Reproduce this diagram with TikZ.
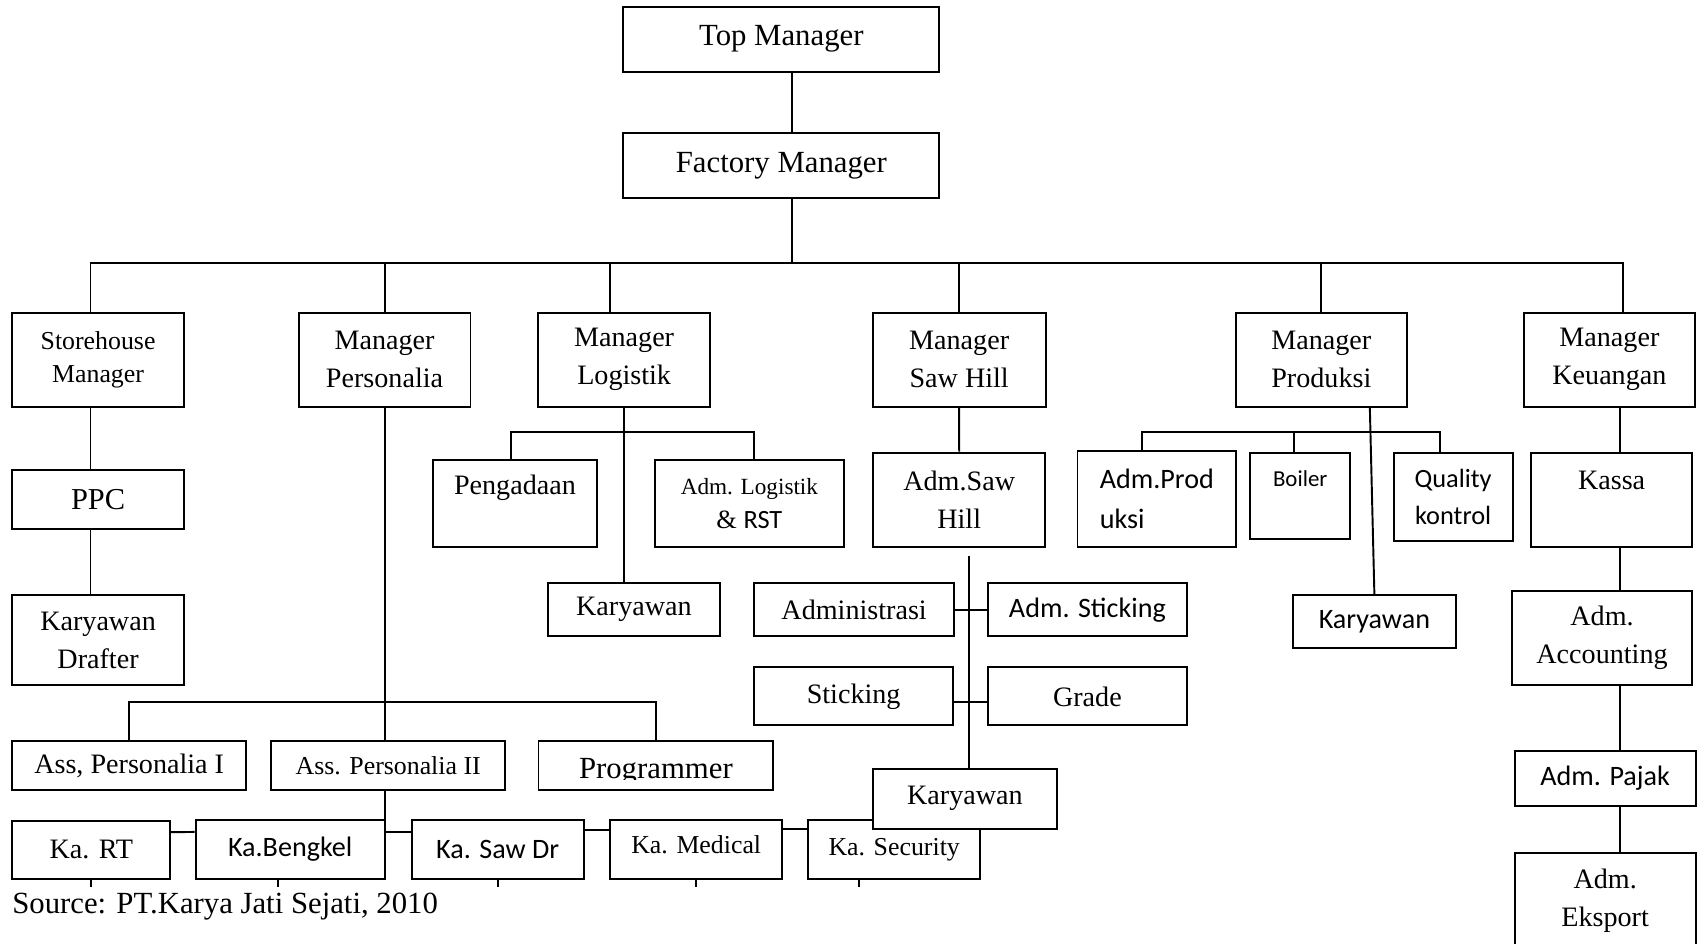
\documentclass[tikz,border=0pt]{standalone}
\usepackage{fontspec}
\setmainfont{Liberation Serif}
\newfontfamily\calibri{Carlito}
\usetikzlibrary{calc}
\newcommand{\pxu}{0.02167cm}
\newcommand{\orgbox}[7][] % options, name, left, top, right, bottom (px of the scan), text
{
	\node[box, #1, minimum width={(#5-#3)*\pxu}, minimum height={(#6-#4)*\pxu}] (#2) at ({(#3+#5)/2},{(#4+#6)/2}) {#7};
}
\tikzset{
	box/.style={draw, fill=white, line width=1.1pt, inner sep=0pt, align=center, font=\fontsize{16}{21.5}\selectfont},
	sans/.style={font=\calibri\fontsize{16}{21.5}\selectfont},
	small/.style={font=\fontsize{14.7}{19}\selectfont},
	link/.style={line width=1.1pt},
}
\begin{document}
\begin{tikzpicture}[x=\pxu, y=-\pxu]
	\clip (0,0) rectangle (1568,871);
	% top of the tree
	\orgbox[font=\fontsize{17.5}{21.5}\selectfont]{tm}{575.3}{6.2}{866.9}{66.1}{Top Manager}
	\orgbox[font=\fontsize{17.5}{21.5}\selectfont]{fm}{575.3}{123}{866.9}{183}{Factory Manager}
	
	% managers
	\orgbox[small]{sm}{11}{288.6}{170}{375.3}{Storehouse\\Manager}
	\orgbox{mp}{275.6}{288.6}{434.2}{375.3}{Manager\\Personalia}
	\orgbox{ml}{496.7}{288.6}{655.3}{375.3}{Manager\\Logistik}
	\orgbox{msh}{805.4}{288.6}{965}{375.3}{Manager\\Saw Hill}
	\orgbox{mpr}{1140.3}{288.6}{1298.6}{375.3}{Manager\\Produksi}
	\orgbox{mk}{1406.6}{288.6}{1564}{375.3}{Manager\\Keuangan}
	
	% storehouse
	\orgbox[font=\fontsize{17.3}{21.5}\selectfont]{ppc}{11}{433.8}{170}{488.5}{PPC}
	\orgbox{drafter}{11}{549.2}{170}{632.2}{Karyawan\\Drafter}
	
	% personalia
	\orgbox{ass1}{11.5}{684}{227}{728.8}{Ass, Personalia I}
	\orgbox[small]{ass2}{250.5}{684}{466}{728.8}{Ass. Personalia II}
	\orgbox{prog}{497}{684}{713.6}{728.8}{}
	\begin{scope}
		\clip (497,684) rectangle (713.6,719.5);
		\node[anchor=base, font=\fontsize{17.5}{21}\selectfont, inner sep=0pt] (progtext) at (605.3,718.3) {Programmer};
	\end{scope}
	\orgbox{krt}{11.5}{757.5}{157}{811}{Ka. RT}
	\orgbox[sans]{kbeng}{180.6}{757}{355}{811}{Ka.Bengkel}
	\orgbox[sans]{ksaw}{380}{757}{538.6}{811}{Ka. Saw Dr}
	\orgbox[small, text depth=6pt]{kmed}{563.3}{757}{721.8}{811}{Ka. Medical}
	\orgbox[small, text depth=3pt]{ksec}{746}{757}{904.5}{811}{Ka. Security}
	
	% logistik
	\orgbox[text depth=21pt]{peng}{399.2}{424.9}{551.3}{504.5}{Pengadaan}
	\orgbox[font=\fontsize{13.2}{19.7}\selectfont]{admlog}{604.3}{424.9}{778.9}{504.5}{Adm. Logistik\\{\fontsize{15}{19.7}\selectfont\& {\calibri RST}}}
	\orgbox{klog}{505.8}{538.4}{664.3}{587}{Karyawan}
	
	% saw hill
	\orgbox{admsh}{806}{417.8}{964.5}{504.5}{Adm.Saw\\Hill}
	\orgbox{adm}{696}{538.4}{880.5}{587}{Administrasi}
	\orgbox[sans]{admstk}{911.6}{538.4}{1095.5}{587}{Adm. Sticking}
	\orgbox{stk}{696}{616}{879.6}{669.4}{Sticking}
	\orgbox{grade}{911.6}{616}{1095.5}{669.4}{Grade}
	\orgbox{ksh}{805.7}{709.4}{975.3}{764.8}{Karyawan}
	
	% produksi
	\orgbox[align=left, font=\calibri\fontsize{16}{22.7}\selectfont]{admprod}{994.4}{416}{1140.8}{504.5}{Adm.Prod\\uksi}
	\orgbox[font=\calibri\fontsize{13}{16}\selectfont, text depth=20pt]{boiler}{1154}{417.8}{1245.9}{497.2}{Boiler}
	\orgbox[font=\calibri\fontsize{15}{21}\selectfont]{qc}{1286.2}{417.8}{1396}{499.3}{Quality\\kontrol}
	\orgbox[sans]{kprod}{1193.5}{549.2}{1343.3}{597.8}{Karyawan}
	
	% keuangan
	\orgbox[text depth=22pt]{kassa}{1413}{417.8}{1561.7}{504.5}{Kassa}
	\orgbox{acc}{1395.3}{545.5}{1561.7}{632.2}{Adm.\\Accounting}
	\orgbox[sans]{pajak}{1397.8}{692.8}{1565}{743.9}{Adm. Pajak}
	\orgbox{eksport}{1397.8}{787}{1565}{876}{Adm.\\Eksport}
	
	\node[anchor=base west, font=\fontsize{17.5}{21}\selectfont, inner sep=0pt] (source) at (11,843) {Source: PT.Karya Jati Sejati, 2010};
	
	% lines, top
	\coordinate (bus) at (0,243);
	\coordinate (tmtap) at ([xshift=6.1pt]tm.south);
	\draw[link] (tmtap) -- (tmtap |- fm.north);
	\draw[link] (tmtap |- fm.south) -- (tmtap |- bus);
	\coordinate (smtap) at ([xshift=-4.3pt]sm.north);
	\coordinate (mltap) at ([xshift=-7.8pt]ml.north);
	\coordinate (mktap) at ([xshift=7.6pt]mk.north);
	\draw[link] (smtap) -- (smtap |- bus) -- (mktap |- bus) -- (mktap);
	\draw[link] (mltap) -- (mltap |- bus);
	\foreach \m in {mp, msh, mpr}
		\draw[link] (\m.north) -- (\m.north |- bus);
	
	% storehouse
	\coordinate (sline) at (83.5,0);
	\draw[link] (sm.south -| sline) -- (ppc.north -| sline);
	\draw[link] (ppc.south -| sline) -- (drafter.north -| sline);
	
	% personalia
	\coordinate (abus) at (0,647.6);
	\coordinate (krow) at ([yshift=10pt]kbeng.east);
	\draw[link] (mp.south) -- (mp.south |- ass2.north);
	\draw[link] (ass1.north) -- (ass1.north |- abus) -- (prog.north |- abus) -- (prog.north);
	\draw[link] (mp.south |- ass2.south) -- (mp.south |- krow);
	\draw[link] ([yshift=10pt]krt.east) -- ([yshift=10pt]kbeng.west);
	\draw[link] (krow) -- (krow -| ksaw.west);
	\draw[link] ([yshift=11pt]ksaw.east) -- ([yshift=11pt]kmed.west);
	\draw[link] ([yshift=11.6pt]kmed.east) -- ([yshift=11.6pt]ksec.west);
	\foreach \k in {krt, ksaw, kmed}
		\draw[link] (\k.south) -- ++(0,7);
	\draw[link] ([xshift=-6.9pt]kbeng.south) -- ++(0,7);
	\draw[link] ([xshift=-19.8pt]ksec.south) -- ++(0,7);
	
	% logistik
	\coordinate (lbus) at (0,398.7);
	\coordinate (pengtap) at ([xshift=-2.2pt]peng.north);
	\coordinate (altap) at ([xshift=2.6pt]admlog.north);
	\draw[link] (ml.south) -- (ml.south |- klog.north);
	\draw[link] (pengtap) -- (pengtap |- lbus) -- (altap |- lbus) -- (altap);
	
	% saw hill
	\coordinate (shline) at (894,512.8);
	\draw[link] (msh.south) -- (admsh.north);
	\draw[link] (shline) -- (shline |- ksh.north);
	\draw[link] (adm.east) -- (admstk.west);
	\draw[link] ([yshift=-3.2pt]stk.east) -- ([yshift=-3.2pt]grade.west);
	
	% produksi
	\coordinate (pbus) at (0,398.7);
	\coordinate (aptap) at ([xshift=-8.4pt]admprod.north);
	\coordinate (botap) at ([xshift=-3.7pt]boiler.north);
	\coordinate (qctap) at ([xshift=-7.4pt]qc.north);
	\draw[link] (aptap) -- (aptap |- pbus) -- (qctap |- pbus) -- (qctap);
	\draw[link] (botap) -- (botap |- pbus);
	\draw[link] ([xshift=27.6pt]mpr.south) -- (kprod.north);
	
	% keuangan
	\coordinate (kline) at (1495,0);
	\foreach \a/\b in {mk/kassa, kassa/acc, acc/pajak, pajak/eksport}
		\draw[link] (\a.south -| kline) -- (\b.north -| kline);
\end{tikzpicture}
\end{document}
